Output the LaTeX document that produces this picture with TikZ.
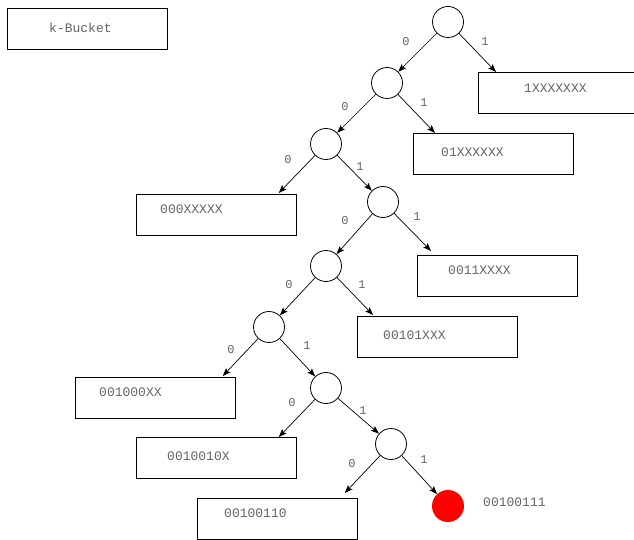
\documentclass[tikz,border=0pt]{standalone}
\usepackage{fontspec}
\setmonofont{Liberation Mono}
\usetikzlibrary{arrows.meta}

\definecolor{bitgray}{RGB}{100,100,100}

\tikzset{
  knot/.style={circle, draw, line width=0.8pt, minimum size=31pt, inner sep=0pt},
  hit/.style={circle, fill=red, minimum size=32pt, inner sep=0pt},
  bucket/.style={rectangle, draw, line width=0.8pt, anchor=north west,
    minimum width=160pt, minimum height=41pt, inner sep=0pt},
  bits/.style={anchor=west, inner sep=0pt, text=bitgray,
    font=\ttfamily\fontsize{13}{15}\selectfont},
  digit/.style={inner sep=0pt, text=bitgray,
    font=\ttfamily\fontsize{12}{14}\selectfont},
  edge/.style={-{Stealth[length=8pt,width=6pt,inset=1.5pt]}, line width=0.7pt},
}

\begin{document}
\begin{tikzpicture}[x=1pt, y=-1pt]
    \useasboundingbox (0,0) rectangle (634,540);

    % Legend box
    \node[bucket] (kb) at (7,8) {};
    \node[bits] (tkb) at ([shift={(42,20)}]kb.north west) {k-Bucket};

    % Tree nodes
    \node[knot] (c1) at (448,22) {};
    \node[knot] (c2) at (387,83) {};
    \node[knot] (c3) at (326,144) {};
    \node[knot] (c4) at (383,202) {};
    \node[knot] (c5) at (326,266) {};
    \node[knot] (c6) at (269,327) {};
    \node[knot] (c7) at (326,388) {};
    \node[knot] (c8) at (391,444) {};
    \node[hit] (own) at (448,506) {};

    % Buckets
    \node[bucket] (b1) at (478,72) {};
    \node[bucket] (b2) at (413,133) {};
    \node[bucket] (b3) at (136,194) {};
    \node[bucket] (b4) at (417,255) {};
    \node[bucket] (b5) at (357,316) {};
    \node[bucket] (b6) at (75,377) {};
    \node[bucket] (b7) at (136,437) {};
    \node[bucket] (b8) at (197,498) {};

    \node[bits] (t1) at ([shift={(46,16)}]b1.north west) {1XXXXXXX};
    \node[bits] (t2) at ([shift={(28,19)}]b2.north west) {01XXXXXX};
    \node[bits] (t3) at ([shift={(24,15)}]b3.north west) {000XXXXX};
    \node[bits] (t4) at ([shift={(31,15)}]b4.north west) {0011XXXX};
    \node[bits] (t5) at ([shift={(26,19)}]b5.north west) {00101XXX};
    \node[bits] (t6) at ([shift={(24,15)}]b6.north west) {001000XX};
    \node[bits] (t7) at ([shift={(31,19)}]b7.north west) {0010010X};
    \node[bits] (t8) at ([shift={(27,15)}]b8.north west) {00100110};
    \node[bits] (town) at (483,502) {00100111};

    % Branches
    \draw[edge] (c1) -- ([xshift=18pt]b1.north west);
    \draw[edge] (c1) -- (c2);
    \draw[edge] (c2) -- (c3);
    \draw[edge] (c2) -- ([xshift=22pt]b2.north west);
    \draw[edge] (c3) -- ([shift={(-18,-1)}]b3.north east);
    \draw[edge] (c3) -- (c4);
    \draw[edge] (c4) -- (c5);
    \draw[edge] (c4) -- ([shift={(14,-4)}]b4.north west);
    \draw[edge] (c5) -- (c6);
    \draw[edge] (c5) -- ([shift={(16,-1)}]b5.north west);
    \draw[edge] (c6) -- ([shift={(-13,-1)}]b6.north east);
    \draw[edge] (c6) -- (c7);
    \draw[edge] (c7) -- ([xshift=-18pt]b7.north east);
    \draw[edge] (c7) -- (c8);
    \draw[edge] (c8) -- ([shift={(-13,-5)}]b8.north east);
    \draw[edge] (c8) -- (own);

    % Bit labels
    \node[digit] (d1a) at (406,42) {0};
    \node[digit] (d1b) at (485,42) {1};
    \node[digit] (d2a) at (345,107) {0};
    \node[digit] (d2b) at (424,103) {1};
    \node[digit] (d3a) at (288,160) {0};
    \node[digit] (d3b) at (360,167) {1};
    \node[digit] (d4a) at (345,221) {0};
    \node[digit] (d4b) at (417,217) {1};
    \node[digit] (d5a) at (289,285) {0};
    \node[digit] (d5b) at (362,285) {1};
    \node[digit] (d6a) at (231,350) {0};
    \node[digit] (d6b) at (307,346) {1};
    \node[digit] (d7a) at (292,403) {0};
    \node[digit] (d7b) at (363,411) {1};
    \node[digit] (d8a) at (352,464) {0};
    \node[digit] (d8b) at (424,460) {1};
\end{tikzpicture}
\end{document}
